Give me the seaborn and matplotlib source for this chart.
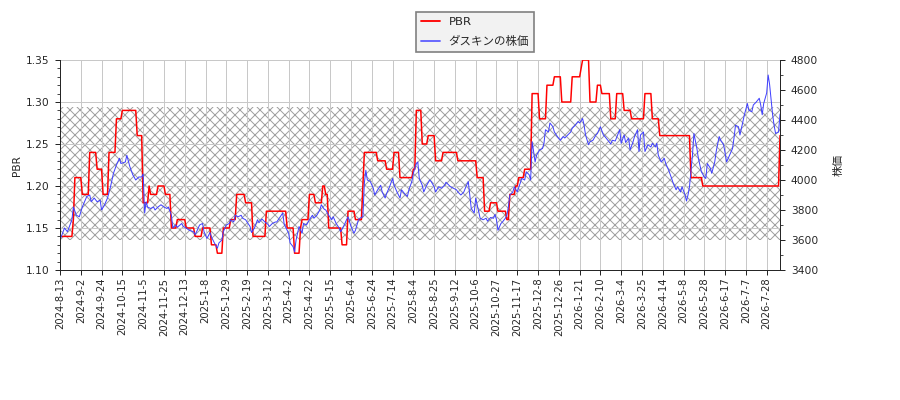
import numpy as np
import pandas as pd
import seaborn as sns
import matplotlib.pyplot as plt
from matplotlib.ticker import MultipleLocator


# trading days shown on the x axis
n_days = 486

# PBR: day where a new level starts, and the level
pbr_start = [0, 9, 10, 15, 20, 25, 29, 33, 38, 42, 52, 56, 60, 61, 66, 71, 75, 79, 85, 91,
             96, 102, 106, 110, 115, 119, 125, 130, 139, 153, 158, 162, 163, 168, 172, 177,
             179, 181, 190, 194, 199, 204, 205, 214, 220, 225, 229, 238, 240, 244, 248, 253,
             258, 268, 281, 286, 290, 295, 301, 303, 307, 309, 313, 318, 323, 328, 333, 338,
             345, 351, 352, 357, 362, 365, 371, 375, 380, 385, 394, 399, 404, 425, 433, 485]
pbr_level = [1.14, 1.16, 1.21, 1.19, 1.24, 1.22, 1.19, 1.24, 1.28, 1.29, 1.26, 1.18, 1.20, 1.19,
             1.20, 1.19, 1.15, 1.16, 1.15, 1.14, 1.15, 1.13, 1.12, 1.15, 1.16, 1.19, 1.18, 1.14,
             1.17, 1.15, 1.12, 1.15, 1.16, 1.19, 1.18, 1.20, 1.19, 1.15, 1.13, 1.17, 1.16, 1.20,
             1.24, 1.23, 1.22, 1.24, 1.21, 1.22, 1.29, 1.25, 1.26, 1.23, 1.24, 1.23, 1.21, 1.17,
             1.18, 1.17, 1.16, 1.19, 1.20, 1.21, 1.22, 1.31, 1.28, 1.32, 1.33, 1.30, 1.33, 1.34,
             1.35, 1.30, 1.32, 1.31, 1.28, 1.31, 1.29, 1.28, 1.31, 1.28, 1.26, 1.21, 1.20, 1.26]

# share price (yen)
stock_day = [0, 3, 5, 8, 9, 11, 13, 15, 18, 20, 21, 23, 25, 27, 28, 30, 32, 34, 36, 38, 40, 41,
             44, 45, 47, 49, 51, 53, 55, 56, 57, 58, 59, 61, 63, 64, 66, 68, 70, 72, 73, 75, 76,
             78, 79, 82, 83, 85, 87, 90, 91, 92, 94, 96, 97, 99, 101, 102, 104, 106, 107, 109,
             110, 112, 114, 115, 117, 118, 120, 122, 123, 125, 128, 129, 131, 133, 134, 136,
             138, 140, 141, 143, 145, 146, 148, 150, 151, 153, 154, 155, 157, 158, 159, 160,
             161, 163, 164, 166, 168, 170, 171, 173, 175, 176, 178, 179, 181, 183, 184, 186,
             188, 189, 191, 193, 194, 196, 198, 199, 201, 202, 204, 205, 206, 207, 209, 211,
             212, 214, 216, 217, 219, 220, 222, 224, 225, 227, 229, 230, 232, 234, 235, 237,
             238, 240, 241, 242, 244, 245, 247, 249, 250, 252, 253, 255, 257, 259, 260, 262,
             263, 265, 267, 268, 270, 272, 273, 275, 276, 277, 279, 280, 282, 283, 285, 287,
             288, 290, 292, 293, 294, 295, 297, 298, 300, 301, 302, 303, 305, 306, 308, 310,
             311, 313, 314, 316, 317, 318, 319, 320, 321, 323, 325, 326, 327, 329, 330, 332,
             333, 335, 337, 339, 340, 342, 344, 345, 347, 349, 350, 352, 353, 354, 356, 357,
             359, 361, 362, 364, 366, 367, 369, 371, 372, 374, 376, 377, 378, 380, 381, 383,
             384, 386, 387, 389, 390, 391, 393, 394, 396, 398, 399, 401, 402, 403, 405, 407,
             408, 410, 412, 413, 415, 416, 418, 419, 421, 422, 423, 424, 426, 427, 429, 430,
             432, 434, 435, 436, 438, 439, 441, 442, 444, 445, 447, 448, 449, 451, 453, 454,
             455, 457, 458, 460, 461, 463, 464, 466, 467, 469, 471, 472, 473, 474, 476, 477,
             478, 480, 481, 482, 484, 485]
stock_price = [3600, 3680, 3655, 3735, 3820, 3765, 3755, 3820, 3890, 3900, 3855, 3880, 3855, 3865,
               3800, 3835, 3880, 3955, 4045, 4100, 4145, 4110, 4120, 4165, 4090, 4035, 4000, 4020,
               4020, 4040, 3780, 3855, 3820, 3810, 3820, 3800, 3820, 3835, 3820, 3810, 3820, 3765,
               3680, 3700, 3685, 3710, 3690, 3680, 3665, 3655, 3635, 3655, 3700, 3710, 3655, 3610,
               3650, 3620, 3580, 3545, 3580, 3600, 3655, 3700, 3710, 3735, 3720, 3765, 3755, 3765,
               3745, 3735, 3690, 3650, 3680, 3735, 3715, 3740, 3720, 3705, 3690, 3710, 3720, 3720,
               3750, 3780, 3705, 3665, 3645, 3580, 3555, 3520, 3600, 3645, 3690, 3645, 3710, 3700,
               3735, 3765, 3745, 3765, 3800, 3835, 3805, 3800, 3765, 3735, 3755, 3710, 3680, 3655,
               3690, 3735, 3755, 3690, 3645, 3665, 3735, 3745, 3755, 3980, 4065, 4000, 3990, 3945,
               3900, 3935, 3965, 3920, 3880, 3910, 3955, 4010, 3965, 3920, 3880, 3935, 3910, 3890,
               3935, 3990, 4045, 4110, 4120, 4010, 3965, 3920, 3965, 4000, 3990, 3955, 3920, 3955,
               3945, 3965, 3985, 3965, 3955, 3945, 3935, 3920, 3900, 3920, 3945, 3990, 3900, 3810,
               3780, 3880, 3790, 3745, 3735, 3745, 3725, 3750, 3745, 3770, 3735, 3665, 3710, 3720,
               3745, 3765, 3820, 3900, 3920, 3955, 3920, 3980, 4010, 4000, 4055, 4035, 4000, 4255,
               4190, 4120, 4165, 4200, 4210, 4245, 4335, 4320, 4380, 4355, 4320, 4290, 4265, 4290,
               4280, 4300, 4320, 4345, 4365, 4390, 4380, 4410, 4365, 4300, 4235, 4255, 4265, 4300,
               4310, 4355, 4300, 4290, 4265, 4240, 4265, 4260, 4310, 4335, 4245, 4300, 4250, 4280,
               4200, 4255, 4290, 4335, 4190, 4300, 4320, 4190, 4235, 4220, 4245, 4220, 4245, 4165,
               4120, 4145, 4110, 4065, 4010, 3980, 3935, 3955, 3920, 3955, 3900, 3860, 3900, 3955,
               4165, 4310, 4210, 4145, 4055, 4020, 4010, 4110, 4080, 4045, 4120, 4190, 4290, 4265,
               4235, 4180, 4120, 4165, 4210, 4280, 4365, 4355, 4300, 4390, 4435, 4510, 4465, 4455,
               4500, 4520, 4545, 4500, 4435, 4510, 4580, 4700, 4635, 4435, 4365, 4310, 4320, 4440]

# hatched PBR band
band_low = 1.136
band_high = 1.294

tick_step = 14
tick_labels = ["2024-8-13", "2024-9-2", "2024-9-24", "2024-10-15", "2024-11-5", "2024-11-25",
               "2024-12-13", "2025-1-8", "2025-1-29", "2025-2-19", "2025-3-12", "2025-4-2",
               "2025-4-22", "2025-5-15", "2025-6-4", "2025-6-24", "2025-7-14", "2025-8-4",
               "2025-8-25", "2025-9-12", "2025-10-6", "2025-10-27", "2025-11-17", "2025-12-8",
               "2025-12-26", "2026-1-21", "2026-2-10", "2026-3-4", "2026-3-25", "2026-4-14",
               "2026-5-8", "2026-5-28", "2026-6-17", "2026-7-7", "2026-7-28"]

# build tables
run_len = np.diff(pbr_start + [n_days])
pbr_df = pd.DataFrame({"day": np.arange(n_days), "PBR": np.repeat(pbr_level, run_len)})
stock_df = pd.DataFrame({"day": stock_day, "price": stock_price})

# style
sns.set_style("ticks")
plt.rcParams["font.family"] = ["DejaVu Sans", "Noto Sans CJK JP"]
plt.rcParams["hatch.linewidth"] = 0.6
plt.rcParams["hatch.color"] = "#a0a0a0"

fig, ax1 = plt.subplots(figsize=(7.5, 10 / 3), dpi=120)
fig.subplots_adjust(left=0.0667, right=0.8667, bottom=0.325, top=0.85)
ax2 = ax1.twinx()

ax1.axhspan(band_low, band_high, facecolor="none", edgecolor="#a0a0a0",
            hatch="xxxx", linewidth=0, zorder=0)

sns.lineplot(data=pbr_df, x="day", y="PBR", ax=ax1, color="red", linewidth=0.9,
             label="PBR", legend=False)
sns.lineplot(data=stock_df, x="day", y="price", ax=ax2, color="#4040ff",
             linewidth=0.6, label="ダスキンの株価", legend=False)

ax1.set_xlim(0, n_days - 1)
ax1.set_ylim(1.10, 1.35)
ax2.set_ylim(3400, 4800)
ax1.yaxis.set_major_locator(MultipleLocator(0.05))
ax1.yaxis.set_minor_locator(MultipleLocator(0.01))
ax2.yaxis.set_major_locator(MultipleLocator(200))
ax2.yaxis.set_minor_locator(MultipleLocator(100))

ax1.set_xticks(np.arange(0, n_days, tick_step)[:len(tick_labels)])
ax1.set_xticklabels(tick_labels, rotation=90, fontsize=6)
ax1.tick_params(axis="y", labelsize=6.4, length=3, width=0.6)
ax1.tick_params(axis="y", which="minor", length=1.8, width=0.5)
ax1.tick_params(axis="x", length=3, width=0.6, pad=1.5)
ax2.tick_params(axis="y", labelsize=6.4, length=3, width=0.6)
ax2.tick_params(axis="y", which="minor", length=1.8, width=0.5)

ax1.set_xlabel("")
ax1.set_ylabel("PBR", fontsize=6.4, labelpad=2)
ax2.set_ylabel("株価", fontsize=6.6, labelpad=9)

ax1.grid(True, color="#c8c8c8", linewidth=0.6)
ax1.set_axisbelow(True)
for ax in (ax1, ax2):
    ax.spines["top"].set_visible(False)
    for side in ("left", "right", "bottom"):
        ax.spines[side].set_linewidth(0.6)

h1, l1 = ax1.get_legend_handles_labels()
h2, l2 = ax2.get_legend_handles_labels()
leg = fig.legend(h1 + h2, l1 + l2, loc="upper center", bbox_to_anchor=(0.528, 0.985),
                 fontsize=6.9, frameon=True, fancybox=False, edgecolor="#808080",
                 facecolor="#f2f2f2", framealpha=1, labelspacing=0.8, handlelength=1.6,
                 borderpad=0.45)
leg_lines = leg.get_lines()
leg_lines[0].set_linewidth(1.1)
leg_lines[1].set_linewidth(1.1)
leg_lines[1].set_color("#6060ff")

fig.savefig("out.png", dpi=120)
